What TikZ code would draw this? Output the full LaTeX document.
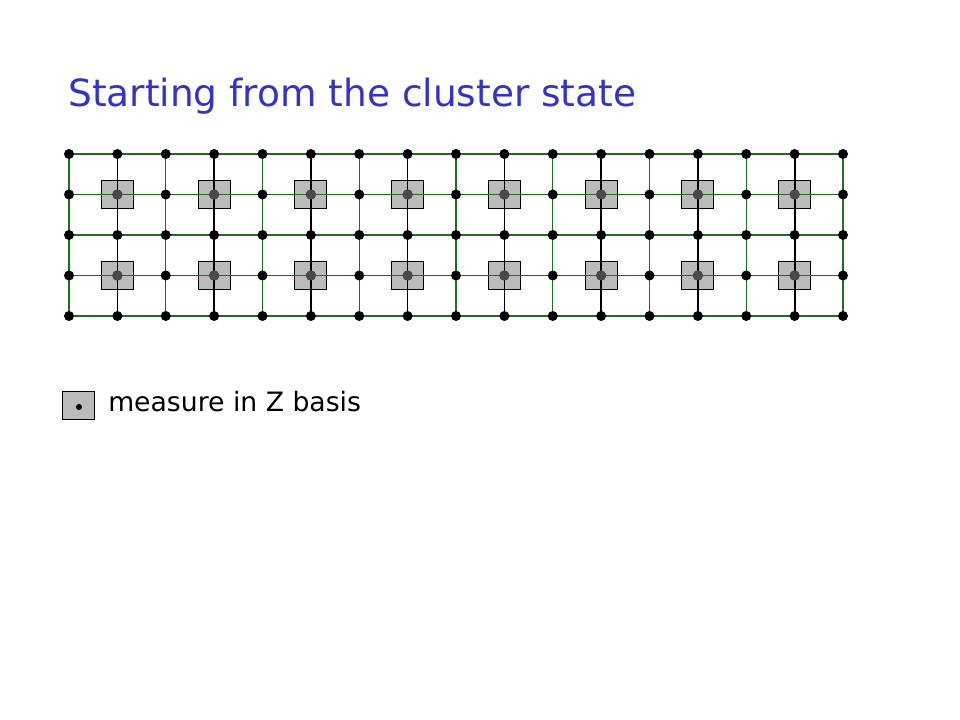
\documentclass[tikz,border=0pt]{standalone}
\usepackage{fontspec}
\setmainfont{DejaVu Sans}
\definecolor{titleblue}{HTML}{3333CC}
\definecolor{bondgreen}{HTML}{1E6E1E}
\definecolor{boxgray}{HTML}{BBBBBB}
\definecolor{dotgray}{HTML}{4A4A4A}
\begin{document}
\begin{tikzpicture}[x=0.75pt,y=-0.75pt,
  qubit/.style={circle,fill=black,inner sep=0pt,minimum size=7.5pt},
  hidden/.style={circle,fill=dotgray,inner sep=0pt,minimum size=7.5pt},
  measbox/.style={draw=black,fill=boxgray,line width=0.75pt,inner sep=0pt,minimum width=24pt,minimum height=21pt},
  bond/.style={bondgreen,line width=1.1pt},
  zbond/.style={black,line width=1.3pt}]
\useasboundingbox (0,0) rectangle (960,720);

\node[anchor=base west,inner sep=0pt,text=titleblue,font=\fontsize{28.1}{34}\selectfont] (title) at (68,107) {Starting from the cluster state};

% lattice sites
\foreach \i in {0,...,16}
  \foreach \j in {0,...,4}
    \coordinate (q-\i-\j) at (69+48.375*\i,154+40.5*\j);

% measured sites
\foreach \i in {1,3,...,15}
  \foreach \j in {1,3}
    \node[measbox] (m-\i-\j) at (q-\i-\j) {};

% bonds
\foreach \j in {0,...,4}
  \draw[bond] (q-0-\j) -- (q-16-\j);
\foreach \i in {0,2,...,16}
  \draw[bond] (q-\i-0) -- (q-\i-4);
\foreach \i in {1,3,...,15}
  \draw[zbond] (q-\i-0) -- (q-\i-4);

% qubits
\foreach \i in {0,...,16}
  \foreach \j in {0,...,4}
    \node[qubit] (d-\i-\j) at (q-\i-\j) {};
\foreach \i in {1,3,...,15}
  \foreach \j in {1,3}
    \node[hidden] at (q-\i-\j) {};

% legend
\node[measbox] (legbox) at (78.5,405) {};
\node[circle,fill=black,inner sep=0pt,minimum size=4.5pt] (legdot) at (79,407) {};
\node[anchor=base west,inner sep=0pt,font=\fontsize{20}{24}\selectfont] (legtext) at (108,411) {measure in Z basis};
\end{tikzpicture}
\end{document}
